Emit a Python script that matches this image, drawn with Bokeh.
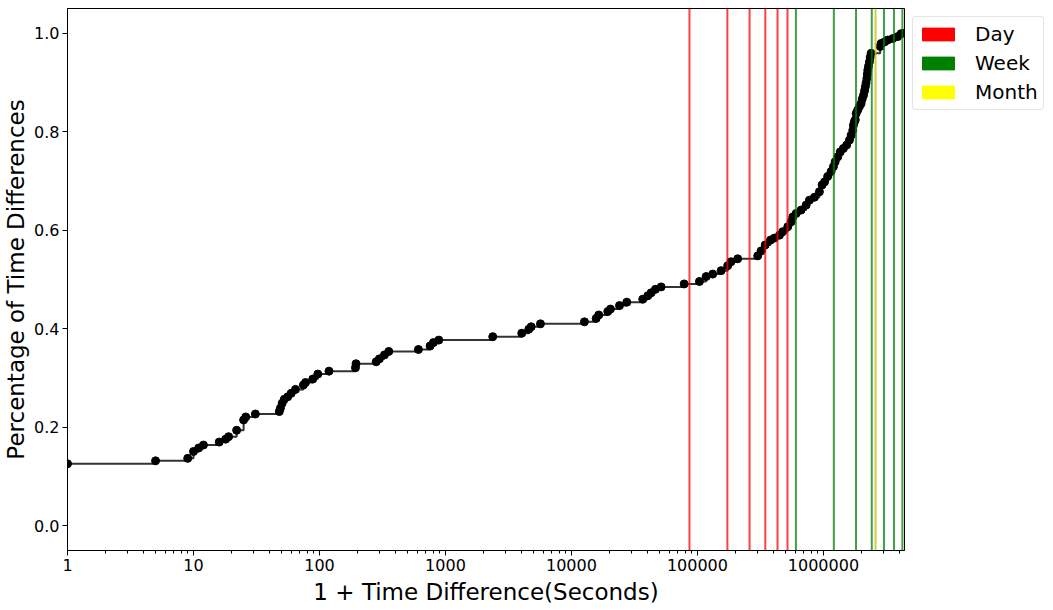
from bokeh.plotting import figure
from bokeh.models import (Span, Legend, LegendItem, FixedTicker, PrintfTickFormatter,
                          ColumnDataSource)
from bokeh.embed import file_html
from bokeh.resources import INLINE

# ECDF of (1 + time difference) in seconds
time_diff = [1, 5, 9, 10, 11, 12, 16, 18, 19, 22, 25, 26, 31, 48, 49, 50.6, 52.6, 56,
             59.6, 64.5, 74.6, 77.5, 88.5, 97, 119, 193, 195, 282, 299, 328, 355, 610,
             755, 803, 885, 2373, 4032, 4585, 4790, 5675, 12680, 15700, 16470, 19420,
             20400, 24060, 27500, 36800, 40370, 42900, 46400, 51500, 78500, 103700,
             117300, 132200, 154100, 173900, 184800, 208700, 300900, 320000, 345000,
             380000, 408000, 448000, 475000, 521000, 554000, 571000, 607000, 665000,
             729000, 774000, 849000, 929000, 976000, 1020000, 1080000, 1150000,
             1200000, 1240000, 1300000, 1360000, 1440000, 1530000, 1610000, 1660000,
             1710000, 1730000, 1760000, 1790000, 1820000, 1870000, 1930000, 1990000,
             2030000, 2080000, 2120000, 2150000, 2180000, 2210000, 2230000, 2250000,
             2280000, 2320000, 2350000, 2390000, 2820000, 2870000, 3050000, 3240000,
             3550000, 3890000, 4140000, 4400000]
pct = [0.126, 0.132, 0.137, 0.151, 0.158, 0.164, 0.170, 0.176, 0.181, 0.194, 0.215,
       0.221, 0.227, 0.232, 0.239, 0.249, 0.257, 0.262, 0.269, 0.277, 0.286, 0.291,
       0.298, 0.308, 0.314, 0.321, 0.329, 0.333, 0.339, 0.347, 0.354, 0.358, 0.365,
       0.372, 0.377, 0.384, 0.391, 0.399, 0.404, 0.410, 0.414, 0.421, 0.428, 0.435,
       0.440, 0.447, 0.454, 0.460, 0.467, 0.473, 0.480, 0.485, 0.491, 0.496, 0.506,
       0.511, 0.518, 0.528, 0.536, 0.542, 0.548, 0.558, 0.570, 0.580, 0.584, 0.590,
       0.597, 0.607, 0.617, 0.627, 0.634, 0.641, 0.651, 0.661, 0.667, 0.678, 0.692,
       0.698, 0.709, 0.719, 0.729, 0.739, 0.749, 0.759, 0.766, 0.773, 0.783, 0.793,
       0.803, 0.813, 0.820, 0.824, 0.837, 0.844, 0.851, 0.857, 0.866, 0.874, 0.883,
       0.891, 0.899, 0.908, 0.917, 0.925, 0.933, 0.942, 0.951, 0.959, 0.973, 0.979,
       0.982, 0.986, 0.989, 0.993, 0.999, 1.0]

day_marks = [86400, 172800, 259200, 345600, 432000, 518400]
week_marks = [604800, 1209600, 1814400, 2419200, 3024000, 3628800, 4233600]
month_marks = [2592000]

x_ticks = [1, 10, 100, 1000, 10000, 100000, 1000000]
y_ticks = [0.0, 0.2, 0.4, 0.6, 0.8, 1.0]

FONT = "DejaVu Sans"

p = figure(frame_width=837, frame_height=542, x_axis_type="log",
           x_range=(1, 4400000), y_range=(-0.05, 1.05),
           output_backend="svg", toolbar_location=None,
           min_border_left=63, min_border_top=8, min_border_bottom=10, min_border_right=0)
p.background_fill_color = "white"
p.border_fill_color = "white"
p.outline_line_color = "black"
p.outline_line_width = 1
p.xgrid.visible = False
p.ygrid.visible = False

src = ColumnDataSource(dict(x=time_diff, y=pct))
p.step("x", "y", source=src, mode="after", line_color="black", line_alpha=0.8, line_width=2)
p.scatter("x", "y", source=src, size=8, fill_color="black", line_color="black", line_width=1)

for v in day_marks:
    p.add_layout(Span(location=v, dimension="height", line_color="#ff0000", line_alpha=0.75, line_width=2))
for v in week_marks:
    p.add_layout(Span(location=v, dimension="height", line_color="#008000", line_alpha=0.75, line_width=2))
for v in month_marks:
    p.add_layout(Span(location=v, dimension="height", line_color="#bfbf00", line_alpha=0.75, line_width=2))

# legend proxies (placed outside the visible x range)
r_day = p.quad(left=[0.001], right=[0.002], top=[0.5], bottom=[0.4], fill_color="red", line_color="red")
r_week = p.quad(left=[0.001], right=[0.002], top=[0.5], bottom=[0.4], fill_color="green", line_color="green")
r_month = p.quad(left=[0.001], right=[0.002], top=[0.5], bottom=[0.4], fill_color="yellow", line_color="yellow")
legend = Legend(items=[LegendItem(label="Day", renderers=[r_day]),
                       LegendItem(label="Week", renderers=[r_week]),
                       LegendItem(label="Month", renderers=[r_month])],
                location="top_left", margin=8, padding=5, spacing=5,
                glyph_width=40, glyph_height=16, label_standoff=17,
                label_text_font=FONT, label_text_font_size="20px", label_height=24,
                label_text_color="black",
                border_line_color="#cccccc", border_line_width=1,
                background_fill_color="white")
if "border_radius" in Legend.properties():
    legend.border_radius = 4
p.add_layout(legend, "right")

p.xaxis.ticker = FixedTicker(ticks=x_ticks,
                             minor_ticks=[m * d for d in x_ticks for m in range(2, 10)])
p.xaxis.formatter = PrintfTickFormatter(format="%d")
p.yaxis.ticker = FixedTicker(ticks=y_ticks, minor_ticks=[])
p.yaxis.formatter = PrintfTickFormatter(format="%.1f")

p.xaxis.axis_label = "1 + Time Difference(Seconds)"
p.yaxis.axis_label = "Percentage of Time Differences"
for ax in (p.xaxis[0], p.yaxis[0]):
    ax.axis_label_text_font = FONT
    ax.axis_label_text_font_size = "23px"
    ax.axis_label_text_font_style = "normal"
    ax.axis_label_text_color = "black"
    ax.major_label_text_font = FONT
    ax.major_label_text_font_size = "16px"
    ax.major_label_text_color = "black"
    ax.axis_line_color = "black"
    ax.major_tick_line_color = "black"
    ax.minor_tick_line_color = "black"
    ax.major_tick_in = 0
    ax.major_tick_out = 5
    ax.minor_tick_in = 0
    ax.minor_tick_out = 3
    ax.major_label_standoff = 3
p.xaxis[0].axis_label_standoff = 5
p.yaxis[0].axis_label_standoff = 2

open("out.html", "w").write(file_html(p, INLINE))
